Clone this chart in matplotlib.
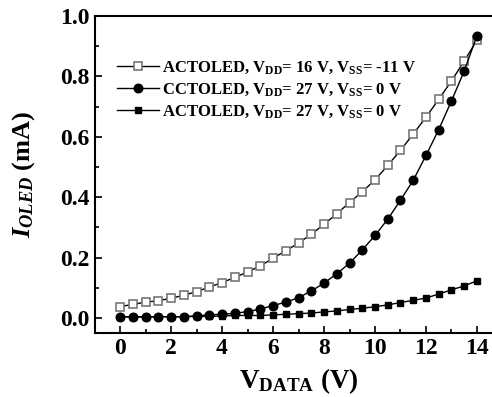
import matplotlib
matplotlib.use('Agg')
import matplotlib.pyplot as plt
import numpy as np
from matplotlib.ticker import MultipleLocator, FormatStrFormatter

# Data
v_data = np.arange(0, 14.01, 0.5)

actoled_16 = [0.037, 0.045, 0.052, 0.057, 0.065, 0.075, 0.087, 0.102, 0.117,
              0.134, 0.152, 0.172, 0.198, 0.222, 0.248, 0.277, 0.310, 0.345,
              0.382, 0.418, 0.457, 0.505, 0.555, 0.609, 0.665, 0.724, 0.785,
              0.851, 0.920]
cctoled_27 = [0.004, 0.004, 0.004, 0.004, 0.004, 0.004, 0.007, 0.010, 0.012,
              0.015, 0.021, 0.029, 0.041, 0.052, 0.067, 0.089, 0.115, 0.146,
              0.181, 0.225, 0.273, 0.327, 0.390, 0.456, 0.538, 0.624, 0.719,
              0.818, 0.935]
actoled_27 = [0.003, 0.003, 0.003, 0.004, 0.004, 0.004, 0.005, 0.005, 0.006,
              0.008, 0.008, 0.008, 0.010, 0.012, 0.014, 0.016, 0.020, 0.023,
              0.028, 0.032, 0.037, 0.043, 0.051, 0.058, 0.066, 0.079, 0.093,
              0.106, 0.123]

labels = [r'ACTOLED, V$_{\mathrm{DD}}$= 16 V, V$_{\mathrm{SS}}$= -11 V',
          r'CCTOLED, V$_{\mathrm{DD}}$= 27 V, V$_{\mathrm{SS}}$= 0 V',
          r'ACTOLED, V$_{\mathrm{DD}}$= 27 V, V$_{\mathrm{SS}}$= 0 V']

plt.rcParams['font.family'] = 'Liberation Serif'
plt.rcParams['font.weight'] = 'bold'
plt.rcParams['axes.labelweight'] = 'bold'
plt.rcParams['mathtext.fontset'] = 'custom'
plt.rcParams['mathtext.rm'] = 'Liberation Serif:bold'
plt.rcParams['mathtext.it'] = 'Liberation Serif:bold:italic'
plt.rcParams['mathtext.bf'] = 'Liberation Serif:bold'

fig = plt.figure(figsize=(4.92, 3.97), dpi=100)
ax = fig.add_axes([94.5 / 492, 1 - 333 / 397, 408 / 492, 317 / 397])

ax.plot(v_data, actoled_16, color='black', lw=1, marker='s', ms=5.8,
        mfc='white', mec='#777777', mew=1.2, label=labels[0])
ax.plot(v_data, cctoled_27, color='black', lw=1, marker='o', ms=6.2,
        mfc='black', mec='black', label=labels[1])
ax.plot(v_data, actoled_27, color='black', lw=1, marker='s', ms=4.8,
        mfc='black', mec='black', label=labels[2])

ax.set_xlim(-1, 15)
ax.set_ylim(-0.05, 1.0)
ax.xaxis.set_major_locator(MultipleLocator(2))
ax.xaxis.set_minor_locator(MultipleLocator(1))
ax.yaxis.set_major_locator(MultipleLocator(0.2))
ax.yaxis.set_minor_locator(MultipleLocator(0.1))
ax.yaxis.set_major_formatter(FormatStrFormatter('%.1f'))
ax.tick_params(which='both', direction='in', top=False, right=False,
               labelsize=17, width=1.2)
ax.tick_params(which='major', length=5)
ax.tick_params(which='minor', length=3)
for s in ax.spines.values():
    s.set_linewidth(1.5)

ax.set_xlabel(r'V$_{\mathrm{DATA}}$ (V)', fontsize=19.5)
ax.set_ylabel(r'$\mathit{I}_{\mathit{OLED}}$ (mA)', fontsize=19)
ax.xaxis.set_label_coords(0.5, -0.106)
ax.yaxis.set_label_coords(-0.142, 0.5)

leg = ax.legend(loc='upper left', bbox_to_anchor=(0.04, 0.885), frameon=False,
                fontsize=12, handlelength=2.5, handletextpad=0.2,
                labelspacing=0.32, borderaxespad=0)

plt.savefig('out.png', dpi=100)
